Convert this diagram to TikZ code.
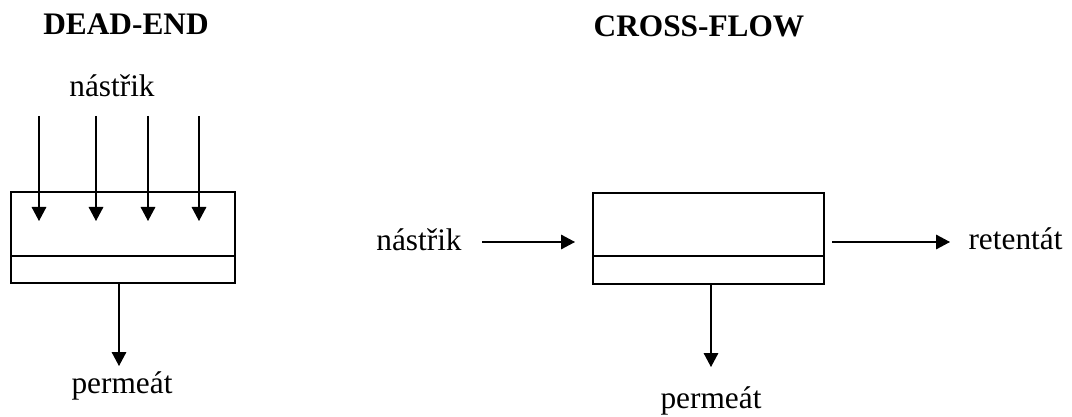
\documentclass[tikz,border=0pt]{standalone}
\usepackage{fontspec}
\setmainfont{Liberation Serif}
\usetikzlibrary{arrows.meta}
\tikzset{
  lbl/.style={inner sep=0pt, anchor=base, font=\fontsize{23.5}{28}\selectfont},
  ttl/.style={lbl, font=\fontsize{23.5}{28}\selectfont\bfseries},
  unit/.style={draw, line width=1.5pt, inner sep=0pt, minimum height=68.25pt},
  membrane/.style={line width=0.8pt},
  flow/.style={line width=0.8pt, -{Triangle[length=10.5pt,width=11pt]}}
}
\begin{document}
\begin{tikzpicture}[x=0.75pt, y=-0.75pt]
\useasboundingbox (0,0) rectangle (1072,417);
% ---------- DEAD-END ----------
\node[ttl] (t1) at (126,35) {DEAD-END};
\node[lbl] (f1) at (112,97) {nástřik};
\node[unit, minimum width=168pt] (b1) at (123,237.5) {};
\draw[membrane] (b1.west |- 0,256) -- (b1.east |- 0,256);
\foreach \i/\x in {1/39, 2/96, 3/148, 4/199} {
  \coordinate (a\i s) at (\x,116);
  \coordinate (a\i e) at (\x,221);
  \draw[flow] (a\i s) -- (a\i e);
}
\coordinate (p1s) at (119,283);
\coordinate (p1e) at (119,366);
\draw[flow] (p1s) -- (p1e);
\node[lbl] (pm1) at (122,393) {permeát};
% ---------- CROSS-FLOW ----------
\node[ttl] (t2) at (699,37) {CROSS-FLOW};
\node[unit, minimum width=173.25pt] (b2) at (708.5,238.5) {};
\draw[membrane] (b2.west |- 0,256) -- (b2.east |- 0,256);
\node[lbl] (f2) at (419,251) {nástřik};
\coordinate (n2s) at (482,242);
\coordinate (n2e) at (575,242);
\draw[flow] (n2s) -- (n2e);
\coordinate (r2s) at (832,242);
\coordinate (r2e) at (950,242);
\draw[flow] (r2s) -- (r2e);
\node[lbl] (r2) at (1015.5,250) {retentát};
\coordinate (p2s) at (711,284);
\coordinate (p2e) at (711,367);
\draw[flow] (p2s) -- (p2e);
\node[lbl] (pm2) at (711,408) {permeát};
\end{tikzpicture}
\end{document}
